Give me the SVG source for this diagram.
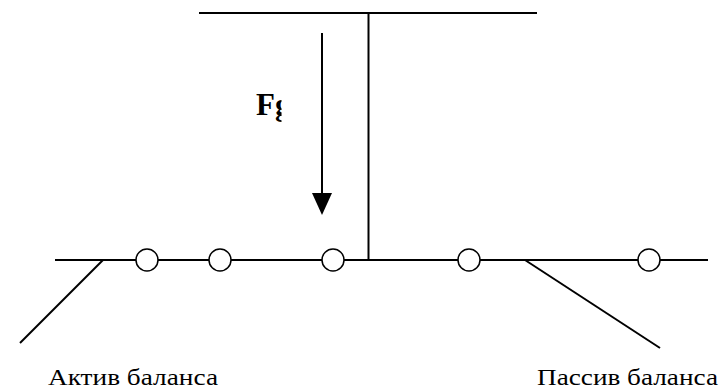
<svg xmlns="http://www.w3.org/2000/svg" width="724" height="391" viewBox="0 0 724 391">
<style>
.ln{stroke:#000;stroke-width:2;fill:none}
.node{fill:#fff;stroke:#000;stroke-width:1.5}
.lbl{font-family:"Liberation Serif","Times New Roman",serif;font-size:24px;fill:#000}
.f{font-family:"Liberation Serif","Times New Roman",serif;font-size:31px;font-weight:bold;fill:#000}
</style>
<defs>
<clipPath id="clipF"><rect x="240" y="80" width="41.5" height="50"/></clipPath>
</defs>
<rect width="724" height="391" fill="#fff"/>
<g id="connectors">
<line class="ln" x1="199" y1="13" x2="537" y2="13"/>
<line class="ln" x1="368.5" y1="13" x2="368.5" y2="260"/>
<line class="ln" x1="55" y1="260" x2="708" y2="260"/>
<line class="ln" x1="103" y1="260" x2="20" y2="343"/>
<line class="ln" x1="525" y1="260" x2="660" y2="348"/>
<line class="ln" x1="322" y1="33" x2="322" y2="196"/>
<polygon points="312,193 332,193 322,215" fill="#000"/>
</g>
<g id="n1"><circle class="node" cx="147" cy="260" r="11"/></g>
<g id="n2"><circle class="node" cx="220" cy="260" r="11"/></g>
<g id="n3"><circle class="node" cx="333" cy="260" r="11"/></g>
<g id="n4"><circle class="node" cx="469" cy="260" r="11"/></g>
<g id="n5"><circle class="node" cx="649" cy="260" r="11"/></g>
<g id="force"><text class="f" x="256" y="115" clip-path="url(#clipF)">Fg</text></g>
<g id="aktiv"><text class="lbl" x="48" y="385" textLength="170" lengthAdjust="spacingAndGlyphs">Актив баланса</text></g>
<g id="passiv"><text class="lbl" x="537" y="385" textLength="181" lengthAdjust="spacingAndGlyphs">Пассив баланса</text></g>
</svg>
